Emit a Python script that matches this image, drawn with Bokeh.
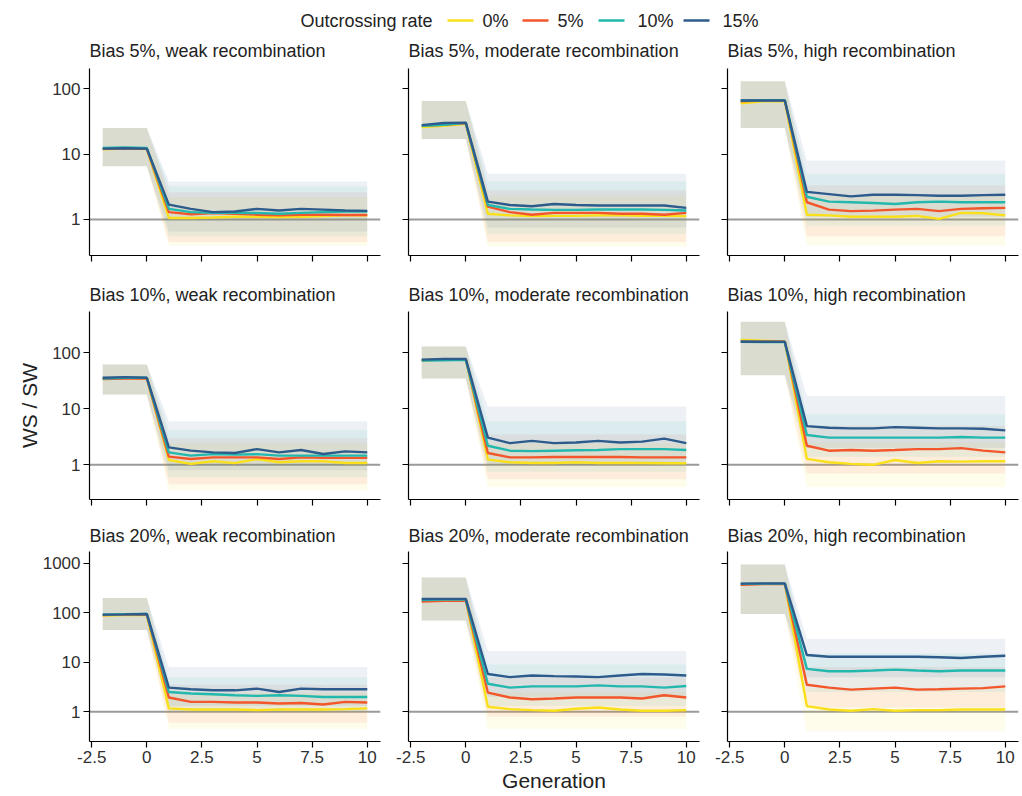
from bokeh.plotting import figure
from bokeh.layouts import column, row
from bokeh.models import Span, FixedTicker, CustomJSTickFormatter, Range1d
from bokeh.core.properties import value
from bokeh.embed import file_html
from bokeh.resources import INLINE

# ---------------- data ----------------
GEN = [-2, -1, 0, 1, 2, 3, 4, 5, 6, 7, 8, 9, 10]
RATES = ["0%", "5%", "10%", "15%"]
COLORS = ["#F9E01A", "#F2562A", "#22B8AE", "#2C5B8C"]
BIASES = ["5%", "10%", "20%"]
RECOMB = ["weak", "moderate", "high"]
XTICKS = [-2.5, 0, 2.5, 5, 7.5, 10]
YTICKS_ROW = [[1, 10, 100], [1, 10, 100], [1, 10, 100, 1000]]
YRANGE_ROW = [(0.28, 204), (0.24, 550), (0.25, 1740)]

# mean WS/SW per generation, one list per outcrossing rate
B5_WEAK_R0 = [11.8, 12.1, 11.9, 1.05, 1.05, 1.07, 1.10, 1.10, 1.09, 1.10, 1.12, 1.15, 1.15]
B5_WEAK_R5 = [12.0, 12.2, 12.0, 1.29, 1.20, 1.25, 1.22, 1.18, 1.15, 1.18, 1.18, 1.17, 1.17]
B5_WEAK_R10 = [12.4, 12.6, 12.4, 1.45, 1.29, 1.26, 1.26, 1.25, 1.22, 1.26, 1.29, 1.32, 1.32]
B5_WEAK_R15 = [12.1, 12.3, 12.1, 1.68, 1.45, 1.29, 1.32, 1.45, 1.37, 1.45, 1.41, 1.37, 1.35]

B5_MOD_R0 = [26, 27, 29, 1.22, 1.15, 1.12, 1.13, 1.13, 1.15, 1.15, 1.13, 1.13, 1.12]
B5_MOD_R5 = [27, 28, 29.5, 1.57, 1.29, 1.18, 1.26, 1.26, 1.26, 1.22, 1.22, 1.18, 1.26]
B5_MOD_R10 = [27, 28, 30, 1.66, 1.45, 1.42, 1.40, 1.40, 1.42, 1.42, 1.42, 1.40, 1.37]
B5_MOD_R15 = [27.7, 29.9, 30.3, 1.87, 1.66, 1.59, 1.72, 1.66, 1.63, 1.63, 1.63, 1.63, 1.50]

B5_HIGH_R0 = [60, 64, 64, 1.18, 1.15, 1.10, 1.10, 1.10, 1.13, 1.02, 1.26, 1.24, 1.15]
B5_HIGH_R5 = [64, 66, 66, 1.83, 1.41, 1.34, 1.36, 1.41, 1.45, 1.34, 1.45, 1.48, 1.50]
B5_HIGH_R10 = [66, 67, 67, 2.22, 1.87, 1.83, 1.78, 1.72, 1.83, 1.87, 1.83, 1.83, 1.83]
B5_HIGH_R15 = [66, 66, 66, 2.64, 2.44, 2.25, 2.38, 2.38, 2.35, 2.30, 2.30, 2.35, 2.38]

B10_WEAK_R0 = [34, 36, 35, 1.22, 1.04, 1.16, 1.07, 1.27, 1.11, 1.16, 1.16, 1.08, 1.08]
B10_WEAK_R5 = [34, 35, 35, 1.40, 1.27, 1.36, 1.36, 1.36, 1.27, 1.36, 1.33, 1.33, 1.33]
B10_WEAK_R10 = [35, 36, 36, 1.67, 1.46, 1.55, 1.52, 1.55, 1.46, 1.46, 1.46, 1.46, 1.46]
B10_WEAK_R15 = [36, 37, 36, 2.05, 1.79, 1.67, 1.63, 1.91, 1.67, 1.84, 1.56, 1.74, 1.67]

B10_MOD_R0 = [74, 76, 76, 1.24, 1.11, 1.08, 1.08, 1.11, 1.08, 1.08, 1.08, 1.07, 1.07]
B10_MOD_R5 = [74, 76, 77, 1.63, 1.36, 1.36, 1.38, 1.38, 1.38, 1.38, 1.36, 1.36, 1.36]
B10_MOD_R10 = [73, 74, 75, 2.19, 1.79, 1.76, 1.79, 1.82, 1.84, 1.91, 1.91, 1.91, 1.84]
B10_MOD_R15 = [76, 78, 78, 3.07, 2.44, 2.68, 2.44, 2.50, 2.68, 2.50, 2.60, 2.94, 2.44]

B10_HIGH_R0 = [171, 165, 160, 1.28, 1.11, 1.04, 1.00, 1.22, 1.08, 1.16, 1.14, 1.16, 1.16]
B10_HIGH_R5 = [160, 158, 158, 2.19, 1.79, 1.84, 1.79, 1.84, 1.91, 1.91, 1.99, 1.79, 1.67]
B10_HIGH_R10 = [158, 156, 156, 3.42, 3.06, 3.06, 3.06, 3.06, 3.06, 3.06, 3.15, 3.06, 3.06]
B10_HIGH_R15 = [158, 158, 158, 4.92, 4.60, 4.48, 4.48, 4.72, 4.60, 4.48, 4.48, 4.42, 4.13]

B20_WEAK_R0 = [88, 90, 90, 1.17, 1.11, 1.11, 1.11, 1.08, 1.11, 1.11, 1.11, 1.13, 1.17]
B20_WEAK_R5 = [90, 92, 92, 1.94, 1.58, 1.58, 1.54, 1.54, 1.47, 1.50, 1.40, 1.58, 1.54]
B20_WEAK_R10 = [92, 94, 95, 2.51, 2.33, 2.26, 2.15, 2.09, 2.15, 2.09, 1.99, 1.99, 1.99]
B20_WEAK_R15 = [92, 93, 95, 3.07, 2.84, 2.71, 2.71, 2.93, 2.51, 2.93, 2.84, 2.84, 2.84]

B20_MOD_R0 = [175, 180, 180, 1.26, 1.13, 1.08, 1.05, 1.15, 1.22, 1.11, 1.05, 1.05, 1.08]
B20_MOD_R5 = [170, 175, 178, 2.44, 1.94, 1.79, 1.85, 1.94, 1.94, 1.94, 1.85, 2.15, 1.94]
B20_MOD_R10 = [182, 185, 185, 3.69, 3.07, 3.26, 3.26, 3.26, 3.41, 3.26, 3.26, 3.07, 3.31]
B20_MOD_R15 = [190, 192, 192, 5.80, 5.00, 5.42, 5.25, 5.17, 5.00, 5.42, 5.80, 5.67, 5.42]

B20_HIGH_R0 = [380, 385, 385, 1.30, 1.11, 1.05, 1.13, 1.05, 1.08, 1.08, 1.11, 1.11, 1.11]
B20_HIGH_R5 = [370, 380, 385, 3.52, 3.07, 2.80, 2.93, 3.07, 2.80, 2.85, 2.93, 3.00, 3.26]
B20_HIGH_R10 = [385, 390, 390, 7.36, 6.60, 6.60, 6.80, 7.10, 6.80, 6.60, 6.80, 6.80, 6.80]
B20_HIGH_R15 = [390, 395, 395, 14.0, 12.9, 12.9, 12.9, 12.9, 12.9, 12.6, 12.2, 12.9, 13.6]

# spread of replicate runs: band edges at generations -2, 0, 1, 10
BAND_X = [-2, 0, 1, 10]
# (pre-change low, pre-change high) per panel
B5_WEAK_PRE = (6.5, 25);   B5_MOD_PRE = (17, 65);    B5_HIGH_PRE = (25, 130)
B10_WEAK_PRE = (18, 62);   B10_MOD_PRE = (35, 130);  B10_HIGH_PRE = (40, 360)
B20_WEAK_PRE = (45, 200);  B20_MOD_PRE = (70, 520);  B20_HIGH_PRE = (95, 950)
# post-change low / high per outcrossing rate
B5_WEAK_LO = [0.40, 0.45, 0.55, 0.65];  B5_WEAK_HI = [2.2, 2.6, 3.2, 3.8]
B5_MOD_LO = [0.38, 0.45, 0.60, 0.75];   B5_MOD_HI = [2.3, 2.8, 3.8, 5.0]
B5_HIGH_LO = [0.40, 0.55, 0.80, 1.10];  B5_HIGH_HI = [2.3, 3.3, 5.0, 8.0]
B10_WEAK_LO = [0.35, 0.45, 0.60, 0.80]; B10_WEAK_HI = [2.4, 3.0, 4.2, 6.0]
B10_MOD_LO = [0.40, 0.55, 0.75, 1.00];  B10_MOD_HI = [2.4, 3.5, 6.0, 11.0]
B10_HIGH_LO = [0.40, 0.70, 1.40, 2.00]; B10_HIGH_HI = [2.5, 5.0, 8.0, 17.0]
B20_WEAK_LO = [0.45, 0.60, 1.00, 1.30]; B20_WEAK_HI = [2.4, 3.5, 5.0, 8.0]
B20_MOD_LO = [0.45, 0.80, 1.30, 2.00];  B20_MOD_HI = [2.5, 5.0, 9.0, 17.0]
B20_HIGH_LO = [0.40, 1.20, 2.50, 5.00]; B20_HIGH_HI = [3.0, 8.0, 15.0, 30.0]

PANELS = [
    [(B5_WEAK_R0, B5_WEAK_R5, B5_WEAK_R10, B5_WEAK_R15, B5_WEAK_PRE, B5_WEAK_LO, B5_WEAK_HI),
     (B5_MOD_R0, B5_MOD_R5, B5_MOD_R10, B5_MOD_R15, B5_MOD_PRE, B5_MOD_LO, B5_MOD_HI),
     (B5_HIGH_R0, B5_HIGH_R5, B5_HIGH_R10, B5_HIGH_R15, B5_HIGH_PRE, B5_HIGH_LO, B5_HIGH_HI)],
    [(B10_WEAK_R0, B10_WEAK_R5, B10_WEAK_R10, B10_WEAK_R15, B10_WEAK_PRE, B10_WEAK_LO, B10_WEAK_HI),
     (B10_MOD_R0, B10_MOD_R5, B10_MOD_R10, B10_MOD_R15, B10_MOD_PRE, B10_MOD_LO, B10_MOD_HI),
     (B10_HIGH_R0, B10_HIGH_R5, B10_HIGH_R10, B10_HIGH_R15, B10_HIGH_PRE, B10_HIGH_LO, B10_HIGH_HI)],
    [(B20_WEAK_R0, B20_WEAK_R5, B20_WEAK_R10, B20_WEAK_R15, B20_WEAK_PRE, B20_WEAK_LO, B20_WEAK_HI),
     (B20_MOD_R0, B20_MOD_R5, B20_MOD_R10, B20_MOD_R15, B20_MOD_PRE, B20_MOD_LO, B20_MOD_HI),
     (B20_HIGH_R0, B20_HIGH_R5, B20_HIGH_R10, B20_HIGH_R15, B20_HIGH_PRE, B20_HIGH_LO, B20_HIGH_HI)],
]

# ---------------- layout / style ----------------
FONT = "Liberation Sans"
TXT = "#222222"
FRAME_W = 291
FRAME_H = [187, 188, 190]
BORDER_L = [89, 26, 26]
BORDER_R = [2, 2, 2]
BORDER_T = [37, 36, 33]
BORDER_B = [20, 19, 50]
TITLE_STANDOFF = [15, 14, 11]

show_label = CustomJSTickFormatter(code="return tick.toString();")
hide_label = CustomJSTickFormatter(code="return '';")


def style_axis(ax, labels):
    ax.axis_line_color = "black"
    ax.axis_line_width = 1.2
    ax.major_tick_line_color = "black"
    ax.major_tick_line_width = 1.2
    ax.major_tick_out = 6
    ax.major_tick_in = 0
    ax.minor_tick_line_color = None
    ax.major_label_text_font = FONT
    ax.major_label_text_font_size = "17px" if labels else "1px"
    ax.major_label_text_color = "#303030"
    ax.major_label_standoff = 3
    ax.formatter = show_label if labels else hide_label
    ax.axis_label_text_font = FONT
    ax.axis_label_text_font_size = "21px"
    ax.axis_label_text_font_style = "normal"
    ax.axis_label_text_color = TXT


rows = []
for i, bias in enumerate(BIASES):
    figs = []
    for j, rec in enumerate(RECOMB):
        r0, r5, r10, r15, pre, lo, hi = PANELS[i][j]
        means = [r0, r5, r10, r15]
        p = figure(frame_width=FRAME_W, frame_height=FRAME_H[i],
                   x_range=Range1d(-2.6, 10.6),
                   y_range=Range1d(*YRANGE_ROW[i]), y_axis_type="log",
                   output_backend="svg", toolbar_location=None,
                   min_border_left=BORDER_L[j], min_border_right=BORDER_R[j],
                   min_border_top=BORDER_T[i], min_border_bottom=BORDER_B[i],
                   background_fill_color="white", border_fill_color="white",
                   outline_line_color=None)
        p.xgrid.visible = False
        p.ygrid.visible = False
        p.title.text = f"Bias {bias}, {rec} recombination"
        p.title.text_font = FONT
        p.title.text_font_size = "18px"
        p.title.text_font_style = "normal"
        p.title.text_color = TXT
        p.title.align = "left"
        p.title.standoff = TITLE_STANDOFF[i]

        p.xaxis.ticker = FixedTicker(ticks=XTICKS)
        p.yaxis.ticker = FixedTicker(ticks=YTICKS_ROW[i])
        style_axis(p.xaxis[0], i == 2)
        style_axis(p.yaxis[0], j == 0)
        if i == 2 and j == 1:
            p.xaxis.axis_label = "Generation"
            p.xaxis.axis_label_standoff = 3
        if i == 1 and j == 0:
            p.yaxis.axis_label = "WS / SW"
            p.yaxis.axis_label_standoff = 8

        one = Span(location=1, dimension="width", line_color="#9a9a9a",
                   line_width=2, level="underlay")
        p.add_layout(one)

        for k in range(4):
            p.varea(x=BAND_X, y1=[pre[0], pre[0], lo[k], lo[k]],
                    y2=[pre[1], pre[1], hi[k], hi[k]],
                    fill_color=COLORS[k], fill_alpha=0.085)
        for k in range(4):
            p.line(GEN, means[k], line_color=COLORS[k], line_width=2.4)
        figs.append(p)
    rows.append(row(*figs))

# legend strip
LEG_H = 31
leg = figure(width=1020, height=LEG_H, x_range=Range1d(0, 1020), y_range=Range1d(0, LEG_H),
             output_backend="svg", toolbar_location=None, min_border=0,
             outline_line_color=None)
leg.axis.visible = False
leg.grid.visible = False
LEG_Y = 11
leg.text(x=[300], y=[LEG_Y], text=["Outcrossing rate"], text_font=value(FONT),
         text_font_size="18px", text_color=TXT, text_baseline="middle")
SEG_X0 = [447, 522, 598, 683]
LAB_X = [482, 557, 637, 722]
leg.segment(x0=SEG_X0, y0=[LEG_Y] * 4, x1=[s + 26 for s in SEG_X0], y1=[LEG_Y] * 4,
            line_color=COLORS, line_width=2.6)
leg.text(x=LAB_X, y=[LEG_Y] * 4, text=RATES, text_font=value(FONT),
         text_font_size="18px", text_color=TXT, text_baseline="middle")

page = column(leg, *rows)
open("out.html", "w").write(file_html(page, INLINE))
